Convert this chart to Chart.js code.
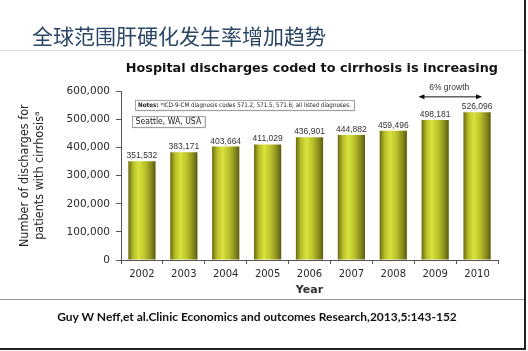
<!DOCTYPE html>
<html>
<head>
<meta charset="utf-8">
<script src="https://cdn.jsdelivr.net/npm/chart.js@4"></script>
<style>
  html, body { margin: 0; padding: 0; background: #fff; }
  body { width: 528px; height: 351px; position: relative; overflow: hidden; }
  #wrap { position: absolute; left: 0; top: 0; width: 528px; height: 351px; }
  #heading { position: absolute; left: 32px; top: 21px; font-family: 'Noto Sans CJK SC', sans-serif; font-size: 21px; line-height: 28px; color: #2a4666; white-space: nowrap; }
  #cite { position: absolute; left: 0; width: 514px; top: 308px; text-align: center; font-family: Lato, 'Open Sans', sans-serif; font-weight: 700; font-size: 12px; line-height: 18px; color: #111; white-space: nowrap; }
  .hl { position: absolute; left: 0; width: 525px; height: 1px; }
  #rb { position: absolute; left: 524px; top: 0; width: 2px; height: 350px; background: #222; }
</style>
</head>
<body>
<div id="wrap"><canvas id="c" width="528" height="351"></canvas></div>
<div id="heading">全球范围肝硬化发生率增加趋势</div>
<div class="hl" style="top:50px;background:#dcdcdc"></div>
<div class="hl" style="top:299px;background:#9a9a9a"></div>
<div class="hl" style="top:348px;height:2px;background:#222"></div>
<div id="rb"></div>
<div id="cite">Guy W Neff,et al.Clinic Economics and outcomes Research,2013,5:143-152</div>
<script>
const years = ['2002', '2003', '2004', '2005', '2006', '2007', '2008', '2009', '2010'];
const discharges = [351532, 383171, 403664, 411029, 436901, 444882, 459496, 498181, 526096];
const yTicks = [0, 100000, 200000, 300000, 400000, 500000, 600000];
const chartTitle = 'Hospital discharges coded to cirrhosis is increasing';
const yTitle = ['Number of discharges for', 'patients with cirrhosis\u1D43'];
const xTitle = 'Year';
const notesBold = 'Notes: ';
const notesText = '*ICD-9-CM diagnosis codes 571.2, 571.5, 571.6; all listed diagnoses.';
const placeText = 'Seattle, WA, USA';
const growthText = '6% growth';
const growthFrom = '2009', growthTo = '2010';

function fmt(v) { return String(v).replace(/\B(?=(\d{3})+(?!\d))/g, ','); }

const BAR_PCT = 0.65;
function barFill(ctx) {
  const chart = ctx.chart;
  if (!chart.chartArea || ctx.dataIndex === undefined) return '#a8b020';
  const xs = chart.scales.x;
  const cx = xs.getPixelForValue(ctx.dataIndex);
  const w = (xs.width / years.length) * BAR_PCT;
  const g = chart.ctx.createLinearGradient(cx - w / 2, 0, cx + w / 2, 0);
  g.addColorStop(0, '#6a6a12');
  g.addColorStop(0.18, '#b6bd28');
  g.addColorStop(0.38, '#d9e23e');
  g.addColorStop(0.62, '#b9c12a');
  g.addColorStop(0.85, '#86891a');
  g.addColorStop(1, '#5a5a0e');
  return g;
}

const narrow = "'Liberation Sans Narrow', 'DejaVu Sans Condensed', sans-serif";

const extras = {
  id: 'extras',
  afterDatasetsDraw(chart) {
    const c = chart.ctx;
    const meta = chart.getDatasetMeta(0);
    c.save();
    // value labels
    c.font = '8.5px "Liberation Sans", Arial, sans-serif';
    c.fillStyle = '#333';
    c.textAlign = 'center';
    c.textBaseline = 'alphabetic';
    meta.data.forEach((el, i) => {
      c.fillText(fmt(discharges[i]), el.x, el.y - 3);
    });
    const ca = chart.chartArea;
    // notes box
    const nx = ca.left + 14, ny = ca.top + 8.5;
    c.font = 'bold 6.2px ' + narrow;
    const bw = c.measureText(notesBold).width;
    c.font = '6.2px ' + narrow;
    const tw = c.measureText(notesText).width;
    const boxW = bw + tw + 6;
    c.fillStyle = 'rgba(0,0,0,0.12)';
    c.fillRect(nx + 1.5, ny + 1.5, boxW, 10);
    c.fillStyle = '#fff';
    c.fillRect(nx, ny, boxW, 10);
    c.strokeStyle = '#8a8a8a';
    c.lineWidth = 0.8;
    c.strokeRect(nx + 0.5, ny + 0.5, boxW, 10);
    c.textAlign = 'left';
    c.textBaseline = 'middle';
    c.fillStyle = '#222';
    c.font = 'bold 6.2px ' + narrow;
    c.fillText(notesBold, nx + 3, ny + 5.5);
    c.font = '6.2px ' + narrow;
    c.fillText(notesText, nx + 3 + bw, ny + 5.5);
    // place box
    const px = ca.left + 11, py = ca.top + 24.5;
    c.font = '8.6px ' + narrow;
    const pw = c.measureText(placeText).width + 7;
    c.fillStyle = 'rgba(0,0,0,0.12)';
    c.fillRect(px + 1.5, py + 1.5, pw, 11);
    c.fillStyle = '#fff';
    c.fillRect(px, py, pw, 11);
    c.strokeStyle = '#8a8a8a';
    c.strokeRect(px + 0.5, py + 0.5, pw, 11);
    c.fillStyle = '#222';
    c.fillText(placeText, px + 3.5, py + 6);
    // growth arrow
    const xs = chart.scales.x;
    const cat = xs.width / years.length;
    const a0 = xs.getPixelForValue(years.indexOf(growthFrom)) - cat * 0.4;
    const a1 = xs.getPixelForValue(years.indexOf(growthTo)) + cat * 0.12;
    const ay = ca.top + 5.5;
    c.strokeStyle = '#111';
    c.fillStyle = '#111';
    c.lineWidth = 1;
    c.beginPath(); c.moveTo(a0 + 4, ay); c.lineTo(a1 - 4, ay); c.stroke();
    c.beginPath(); c.moveTo(a0, ay); c.lineTo(a0 + 6, ay - 2.5); c.lineTo(a0 + 6, ay + 2.5); c.closePath(); c.fill();
    c.beginPath(); c.moveTo(a1, ay); c.lineTo(a1 - 6, ay - 2.5); c.lineTo(a1 - 6, ay + 2.5); c.closePath(); c.fill();
    c.font = '8.5px "Liberation Sans", Arial, sans-serif';
    c.fillStyle = '#333';
    c.textAlign = 'center';
    c.fillText(growthText, (a0 + a1) / 2 - 1, ay - 9);
    c.restore();
  }
};

new Chart(document.getElementById('c'), {
  type: 'bar',
  data: {
    labels: years,
    datasets: [{
      data: discharges,
      backgroundColor: barFill,
      borderWidth: 0,
      barPercentage: BAR_PCT,
      categoryPercentage: 1
    }]
  },
  options: {
    responsive: false,
    animation: false,
    devicePixelRatio: 1,
    layout: { padding: { top: 58, right: 30, bottom: 0, left: 0 } },
    plugins: {
      legend: { display: false },
      tooltip: { enabled: false },
      title: {
        display: true,
        text: chartTitle,
        align: 'end',
        color: '#111',
        font: { family: '"DejaVu Sans", sans-serif', size: 12.8, weight: 'bold' },
        padding: { top: 3, bottom: 15 }
      }
    },
    scales: {
      x: {
        grid: { display: true, drawOnChartArea: false, drawTicks: true, tickLength: 4, color: '#555', offset: true },
        border: { display: true, color: '#555', width: 1 },
        ticks: { color: '#2a2a2a', padding: 4, font: { family: '"DejaVu Sans", sans-serif', size: 10 } },
        title: { display: true, text: xTitle, color: '#333', font: { family: '"DejaVu Sans", sans-serif', size: 11, weight: 'bold' }, padding: { top: 0, bottom: 54 } },
        afterFit(s) { s.height = 91; }
      },
      y: {
        min: 0,
        max: 600000,
        afterBuildTicks(s) { s.ticks = yTicks.map(v => ({ value: v })); },
        grid: { display: true, drawOnChartArea: false, drawTicks: true, tickLength: 5, color: '#555' },
        border: { display: true, color: '#555', width: 1 },
        ticks: { color: '#2a2a2a', padding: 6, font: { family: '"DejaVu Sans", sans-serif', size: 10.5 }, callback: v => fmt(v) },
        title: { display: true, text: yTitle, color: '#222', font: { family: narrow, size: 12.5 }, padding: { top: 17, bottom: 0 } },
        afterFit(s) { s.width = 121; }
      }
    }
  },
  plugins: [extras]
});
</script>
</body>
</html>
